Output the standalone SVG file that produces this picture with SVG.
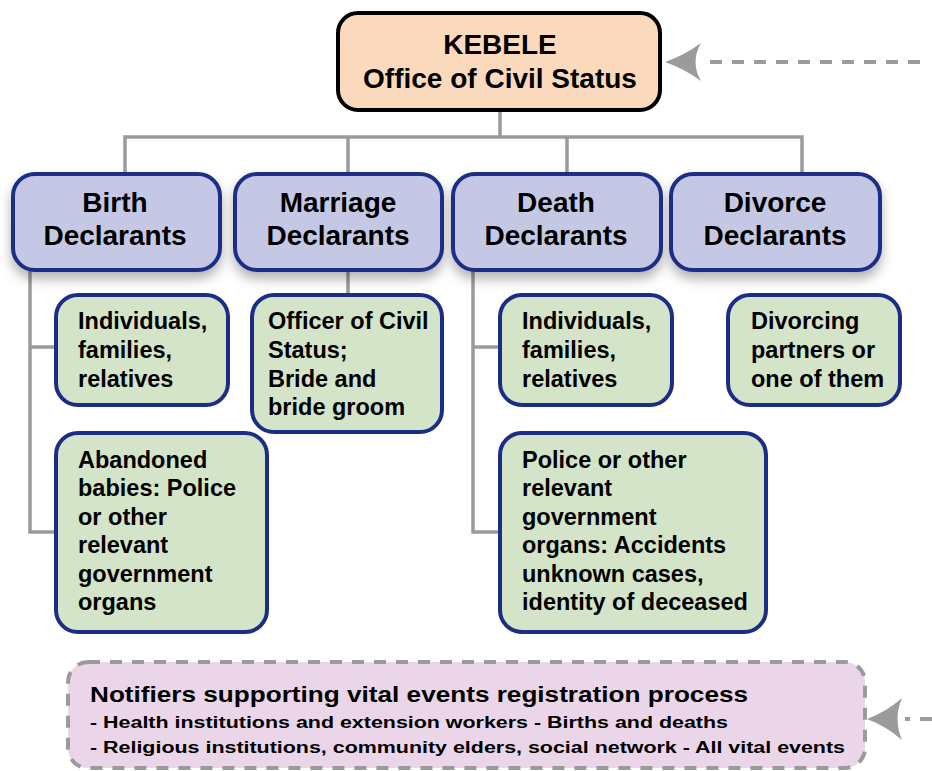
<svg xmlns="http://www.w3.org/2000/svg" width="932" height="771" viewBox="0 0 932 771">
<style>
text{font-family:"Liberation Sans",Arial,sans-serif;font-weight:bold;fill:#000}
.top{fill:#FBD9BD;stroke:#000;stroke-width:4}
.decl{fill:#C5C8E4;stroke:#1C2D86;stroke-width:4}
.grn{fill:#D3E4C8;stroke:#1C2D86;stroke-width:4}
.t28{font-size:28px;text-anchor:middle}
.t23{font-size:23.5px}
.conn{fill:none;stroke:#9B9B9B;stroke-width:3.5}
.dash{fill:none;stroke:#9B9B9B;stroke-width:4;stroke-dasharray:12 10}
.head{fill:#9B9B9B}
</style>
<defs>
<filter id="sh" x="-20%" y="-20%" width="140%" height="150%">
<feDropShadow dx="0" dy="7" stdDeviation="6" flood-color="#000" flood-opacity="0.3"/>
</filter>
</defs>
<g id="connectors">
<path class="conn" d="M500,111 V137 M125,173 V137 H802 V173 M348,137 V173 M567,137 V173"/>
<path class="conn" d="M30,270 V532 H57 M30,347 H57"/>
<path class="conn" d="M348,270 V296"/>
<path class="conn" d="M473,270 V532 H501 M473,347 H501"/>
<path class="dash" d="M920,62 H700"/>
<path class="head" d="M665,62 Q685,55 701,43 Q690,62 701,81 Q685,69 665,62 Z"/>
<path class="dash" d="M932,719 H905"/>
<path class="head" d="M867,719 Q886,712 902,698 Q893,719 902,740 Q886,726 867,719 Z"/>
</g>
<g id="kebele">
<rect class="top" x="338" y="13" width="322" height="97" rx="20"/>
<text class="t28" x="500" y="54">KEBELE</text>
<text class="t28" x="500" y="88">Office of Civil Status</text>
</g>
<g id="birth">
<rect class="decl" filter="url(#sh)" x="13" y="174" width="207" height="96" rx="22"/>
<text class="t28" x="115" y="212">Birth</text>
<text class="t28" x="115" y="245">Declarants</text>
</g>
<g id="marriage">
<rect class="decl" filter="url(#sh)" x="235" y="174" width="207" height="96" rx="22"/>
<text class="t28" x="338" y="212">Marriage</text>
<text class="t28" x="338" y="245">Declarants</text>
</g>
<g id="death">
<rect class="decl" filter="url(#sh)" x="453" y="174" width="208" height="96" rx="22"/>
<text class="t28" x="556" y="212">Death</text>
<text class="t28" x="556" y="245">Declarants</text>
</g>
<g id="divorce">
<rect class="decl" filter="url(#sh)" x="671" y="174" width="209" height="96" rx="22"/>
<text class="t28" x="775" y="212">Divorce</text>
<text class="t28" x="775" y="245">Declarants</text>
</g>
<g id="birth-individuals">
<rect class="grn" x="56" y="295" width="172" height="110" rx="22"/>
<text class="t23" x="78"><tspan x="78" y="329">Individuals,</tspan><tspan x="78" y="358">families,</tspan><tspan x="78" y="387">relatives</tspan></text>
</g>
<g id="birth-abandoned">
<rect class="grn" x="56" y="433" width="211" height="199" rx="22"/>
<text class="t23" x="78"><tspan x="78" y="468">Abandoned</tspan><tspan x="78" y="496">babies: Police</tspan><tspan x="78" y="525">or other</tspan><tspan x="78" y="553">relevant</tspan><tspan x="78" y="582">government</tspan><tspan x="78" y="610">organs</tspan></text>
</g>
<g id="marriage-officer">
<rect class="grn" x="252" y="295" width="190" height="137" rx="22"/>
<text class="t23" x="268"><tspan x="268" y="329">Officer of Civil</tspan><tspan x="268" y="358">Status;</tspan><tspan x="268" y="387">Bride and</tspan><tspan x="268" y="415">bride groom</tspan></text>
</g>
<g id="death-individuals">
<rect class="grn" x="500" y="295" width="172" height="110" rx="22"/>
<text class="t23" x="522"><tspan x="522" y="329">Individuals,</tspan><tspan x="522" y="358">families,</tspan><tspan x="522" y="387">relatives</tspan></text>
</g>
<g id="death-police">
<rect class="grn" x="500" y="433" width="266" height="199" rx="22"/>
<text class="t23" x="522"><tspan x="522" y="468">Police or other</tspan><tspan x="522" y="496">relevant</tspan><tspan x="522" y="525">government</tspan><tspan x="522" y="553">organs: Accidents</tspan><tspan x="522" y="582">unknown cases,</tspan><tspan x="522" y="610">identity of deceased</tspan></text>
</g>
<g id="divorce-partners">
<rect class="grn" x="728" y="295" width="172" height="110" rx="22"/>
<text class="t23" x="751"><tspan x="751" y="329">Divorcing</tspan><tspan x="751" y="358">partners or</tspan><tspan x="751" y="387">one of them</tspan></text>
</g>
<g id="notifiers">
<rect x="68" y="662" width="797" height="106" rx="20" fill="#EAD6E8" stroke="#9B9B9B" stroke-width="4" stroke-dasharray="12 10"/>
<text x="90" y="702" font-size="22" textLength="658" lengthAdjust="spacingAndGlyphs">Notifiers supporting vital events registration process</text>
<text x="90" y="728" font-size="16" textLength="638" lengthAdjust="spacingAndGlyphs">- Health institutions and extension workers - Births and deaths</text>
<text x="90" y="753" font-size="16" textLength="755" lengthAdjust="spacingAndGlyphs">- Religious institutions, community elders, social network - All vital events</text>
</g>
</svg>
